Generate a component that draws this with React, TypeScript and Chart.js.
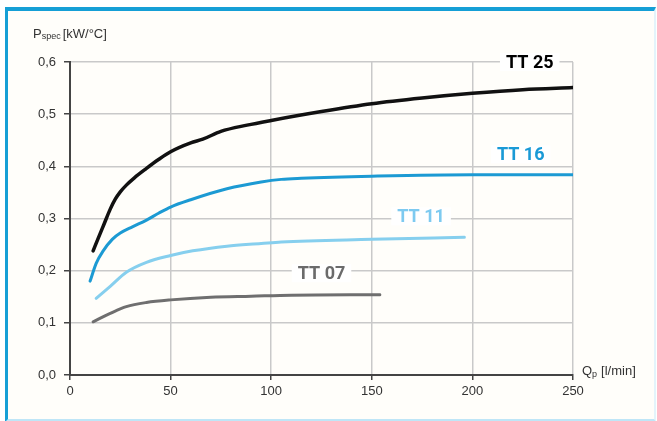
import React, { useEffect, useRef } from "react";
import { Chart, registerables } from "chart.js";

Chart.register(...registerables);

const xTicks = [0, 50, 100, 150, 200, 250];
const yTicks = [0, 0.1, 0.2, 0.3, 0.4, 0.5, 0.6];

const tt25X = [11.5, 14, 17, 20, 22.5, 25, 28, 32, 38, 44, 50, 60, 66, 75, 88, 100, 125, 150, 175, 200, 225, 250];
const tt25Y = [0.238, 0.262, 0.29, 0.318, 0.337, 0.351, 0.364, 0.378, 0.396, 0.413, 0.428, 0.445, 0.452, 0.467, 0.479, 0.488, 0.505, 0.52, 0.531, 0.54, 0.547, 0.551];

const tt16X = [10, 13, 16.5, 21, 25, 31, 38, 44, 50, 60, 78, 95, 105, 115, 150, 200, 250];
const tt16Y = [0.18, 0.214, 0.238, 0.26, 0.272, 0.284, 0.297, 0.31, 0.322, 0.336, 0.357, 0.37, 0.375, 0.377, 0.381, 0.384, 0.384];

const tt11X = [13, 20, 28, 38, 50, 61, 78, 95, 105, 150, 196];
const tt11Y = [0.147, 0.17, 0.197, 0.216, 0.229, 0.238, 0.247, 0.252, 0.255, 0.26, 0.264];

const tt07X = [11.5, 20, 28, 38, 50, 70, 90, 110, 154];
const tt07Y = [0.102, 0.118, 0.131, 0.139, 0.144, 0.149, 0.151, 0.153, 0.154];

const seriesNames = ["TT 25", "TT 16", "TT 11", "TT 07"];
// label anchor in data coordinates (center)
const labelX = [228.5, 224, 174.5, 125];
const labelY = [0.6, 0.423, 0.304, 0.195];

const lineColors = ["#111111", "#1c9ad3", "#86cfee", "#6f6f6f"];
const textColors = ["#000000", "#1a9ad6", "#7dcaf0", "#6b6b6b"];

const toPts = (xs: number[], ys: number[]) => xs.map((x, i) => ({ x, y: ys[i] }));

const overlayPlugin = {
  id: "overlay",
  afterDatasetsDraw(chart: any) {
    const ctx = chart.ctx;
    const xs = chart.scales.x;
    const ys = chart.scales.y;
    ctx.save();
    ctx.font = "bold 18px Roboto";
    ctx.textAlign = "center";
    ctx.textBaseline = "middle";
    seriesNames.forEach((name, i) => {
      const px = xs.getPixelForValue(labelX[i]);
      const py = ys.getPixelForValue(labelY[i]);
      const w = ctx.measureText(name).width;
      ctx.fillStyle = "#ffffff";
      ctx.fillRect(px - w / 2 - 6, py - 9, w + 12, 18);
      ctx.fillStyle = textColors[i];
      ctx.fillText(name, px, py + 1);
    });
    ctx.fillStyle = "#333333";
    ctx.textAlign = "left";
    ctx.textBaseline = "alphabetic";
    let x = 33;
    ctx.font = "13px 'Liberation Sans'";
    ctx.fillText("P", x, 38);
    x += ctx.measureText("P").width;
    ctx.font = "9px 'Liberation Sans'";
    ctx.fillText("spec", x, 39);
    x += ctx.measureText("spec").width + 2;
    ctx.font = "13px 'Liberation Sans'";
    ctx.fillText("[kW/°C]", x, 38);

    x = 582;
    ctx.font = "13px 'Liberation Sans'";
    ctx.fillText("Q", x, 375);
    x += ctx.measureText("Q").width;
    ctx.font = "9px 'Liberation Sans'";
    ctx.fillText("p", x, 377);
    x += ctx.measureText("p").width + 4;
    ctx.font = "13px 'Liberation Sans'";
    ctx.fillText("[l/min]", x, 375);
    ctx.restore();
  },
};

export default function App() {
  const ref = useRef<HTMLCanvasElement | null>(null);
  useEffect(() => {
    if (!ref.current) return;
    const mk = (i: number, xs: number[], ys: number[], w: number) => ({
      label: seriesNames[i],
      data: toPts(xs, ys),
      borderColor: lineColors[i],
      borderWidth: w,
      pointRadius: 0,
      fill: false,
      cubicInterpolationMode: "monotone" as const,
      borderCapStyle: "round" as const,
    });
    const chart = new Chart(ref.current, {
      type: "line",
      data: {
        datasets: [
          mk(3, tt07X, tt07Y, 3),
          mk(2, tt11X, tt11Y, 3),
          mk(1, tt16X, tt16Y, 3),
          mk(0, tt25X, tt25Y, 3.5),
        ],
      },
      options: {
        animation: false,
        responsive: false,
        layout: { padding: { left: 0, right: 84, top: 62, bottom: 0 } },
        plugins: { legend: { display: false }, tooltip: { enabled: false } },
        scales: {
          x: {
            type: "linear",
            min: 0,
            max: 250,
            afterBuildTicks: (s: any) => {
              s.ticks = xTicks.map((v) => ({ value: v }));
            },
            afterFit: (s: any) => {
              s.height = 46;
            },
            grid: { color: "#c9c9c9", lineWidth: 1.5, tickLength: 5, tickColor: "#444" },
            border: { color: "#444", width: 2 },
            ticks: {
              color: "#333",
              padding: 4,
              font: { family: "'Liberation Sans'", size: 13 },
              callback: (v: any) => String(v),
            },
          },
          y: {
            type: "linear",
            min: 0,
            max: 0.6,
            afterBuildTicks: (s: any) => {
              s.ticks = yTicks.map((v) => ({ value: v }));
            },
            afterFit: (s: any) => {
              s.width = 70;
            },
            grid: { color: "#c9c9c9", lineWidth: 1.5, tickLength: 6, tickColor: "#444" },
            border: { color: "#444", width: 2 },
            ticks: {
              color: "#333",
              padding: 8,
              font: { family: "'Liberation Sans'", size: 13 },
              callback: (v: any) => Number(v).toFixed(1).replace(".", ","),
            },
          },
        },
      },
      plugins: [overlayPlugin],
    });
    return () => chart.destroy();
  }, []);

  return (
    <div style={{ position: "absolute", left: 0, top: 0, width: 657, height: 421, background: "#ffffff" }}>
      <div
        style={{
          position: "absolute",
          left: 5,
          top: 7,
          width: 646,
          height: 408,
          background: "#fffefa",
          borderTop: "4px solid #159fd6",
          borderLeft: "3px solid #159fd6",
          borderBottom: "3px solid #bfe6f7",
          borderRight: "2px solid #e3f4fb",
        }}
      />
      <canvas
        ref={ref}
        width={657}
        height={421}
        style={{ position: "absolute", left: 0, top: 0, width: 657, height: 421 }}
      />
    </div>
  );
}
